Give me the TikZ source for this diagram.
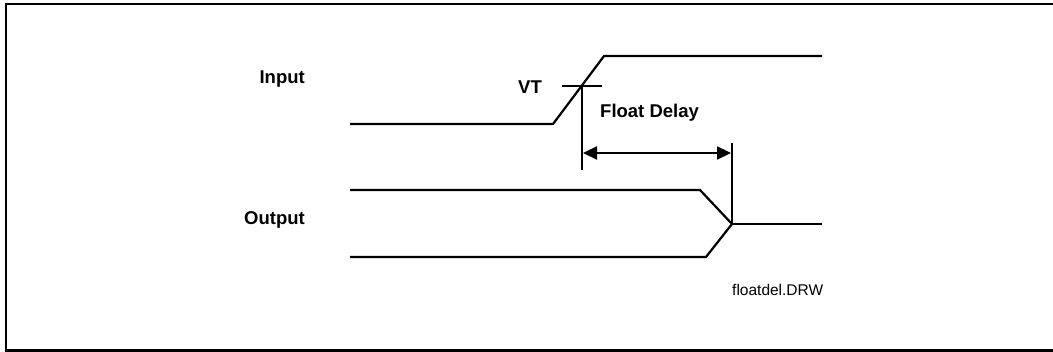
\documentclass[tikz,border=0pt]{standalone}
\usepackage{fontspec}
\setmainfont{Liberation Sans}
\usetikzlibrary{arrows.meta}
\begin{document}
\begin{tikzpicture}[x=1pt,y=-1pt,
  sig/.style={line width=2.2pt,line join=miter},
  lbl/.style={font=\fontsize{18.5}{21}\selectfont\bfseries,inner sep=0pt},
  note/.style={font=\fontsize{15.5}{18}\selectfont,inner sep=0pt},
  dim/.style={line width=2.2pt,{Triangle[length=14pt,width=13pt]}-{Triangle[length=14pt,width=13pt]}}]
\useasboundingbox (0,0) rectangle (1053,352);
% frame
\draw[line width=2.2pt] (1060,4) -- (6,4) -- (6,350.5) -- (1060,350.5);
% input waveform
\coordinate (i0) at (350,124);
\coordinate (i1) at (553,124);
\coordinate (i2) at (604,56);
\coordinate (i3) at (822,56);
\draw[sig] (i0) -- (i1) -- (i2) -- (i3);
% VT tick
\coordinate (vtl) at (562,86);
\coordinate (vtr) at (602,86);
\draw[sig] (vtl) -- (vtr);
\coordinate (va) at (582,86);
\coordinate (vb) at (582,170);
\draw[sig] (va) -- (vb);
% output waveform
\coordinate (o0) at (350,190);
\coordinate (o1) at (700,190);
\coordinate (om) at (732,224);
\coordinate (o2) at (706,257);
\coordinate (o3) at (350,257);
\coordinate (oe) at (822,224);
\draw[sig] (o0) -- (o1) -- (om) -- (o2) -- (o3);
\draw[sig] (om) -- (oe);
\coordinate (ot) at (732,143);
\draw[sig] (ot) -- (om);
% dimension arrow
\coordinate (da) at (583,153);
\coordinate (db) at (731,153);
\draw[dim] (da) -- (db);
% labels
\node[lbl,anchor=east] (inlbl) at (305,79) {Input};
\node[lbl,anchor=east] (outlbl) at (305,220) {Output};
\node[lbl,anchor=east] (vt) at (542,87) {VT};
\node[lbl,anchor=west] (fd) at (600,113) {Float Delay};
\node[note,anchor=west] (fn) at (732,290) {floatdel.DRW};
\end{tikzpicture}
\end{document}
